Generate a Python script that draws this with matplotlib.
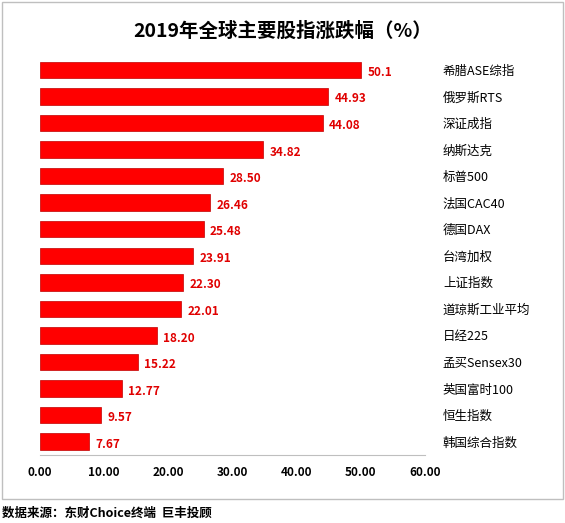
import matplotlib.pyplot as plt
import matplotlib.patches as patches

plt.rcParams['font.family'] = ['Noto Sans CJK SC', 'DejaVu Sans']

names = ['希腊ASE综指', '俄罗斯RTS', '深证成指', '纳斯达克', '标普500', '法国CAC40',
         '德国DAX', '台湾加权', '上证指数', '道琼斯工业平均', '日经225',
         '孟买Sensex30', '英国富时100', '恒生指数', '韩国综合指数']
values = [50.1, 44.93, 44.08, 34.82, 28.50, 26.46, 25.48, 23.91, 22.30, 22.01,
          18.20, 15.22, 12.77, 9.57, 7.67]
value_labels = ['50.1', '44.93', '44.08', '34.82', '28.50', '26.46', '25.48', '23.91',
                '22.30', '22.01', '18.20', '15.22', '12.77', '9.57', '7.67']

fig = plt.figure(figsize=(5.65, 5.23), dpi=100)
fig.patches.append(patches.Rectangle((0.004, 0.045), 0.992, 0.951, transform=fig.transFigure,
                                     fill=False, edgecolor='#bfbfbf', lw=1))
ax = fig.add_axes([0.071, 0.130, 0.681, 0.762])

y = list(range(len(names)))
ax.barh(y, values, height=0.62, color='#ff0000', edgecolor='#c00000', lw=0.5)
for yi, v, lab in zip(y, values, value_labels):
    ax.text(v + 1.0, yi + 0.1, lab, color='#e00000', fontsize=8.5, fontweight='bold',
            va='center', ha='left')

ax.set_ylim(len(names) - 0.5, -0.5)
ax.set_xlim(0, 60)
ax.set_xticks(range(0, 61, 10))
ax.set_xticklabels([f'{t:.2f}' for t in range(0, 61, 10)], fontsize=8.5, fontweight='bold')
ax.yaxis.tick_right()
ax.set_yticks(y)
ax.set_yticklabels(names, fontsize=9)
ax.tick_params(axis='y', length=0, pad=13)
ax.tick_params(axis='x', length=0, pad=8)
for s in ['top', 'right', 'left']:
    ax.spines[s].set_visible(False)
ax.spines['bottom'].set_color('#bfbfbf')

fig.text(0.5, 0.94, '2019年全球主要股指涨跌幅（%）', ha='center', va='center',
         fontsize=14, fontweight='bold')
fig.text(0.004, 0.018, '数据来源：东财Choice终端  巨丰投顾', ha='left', va='center',
         fontsize=9, fontweight='bold')

fig.savefig('out.png', dpi=100)
